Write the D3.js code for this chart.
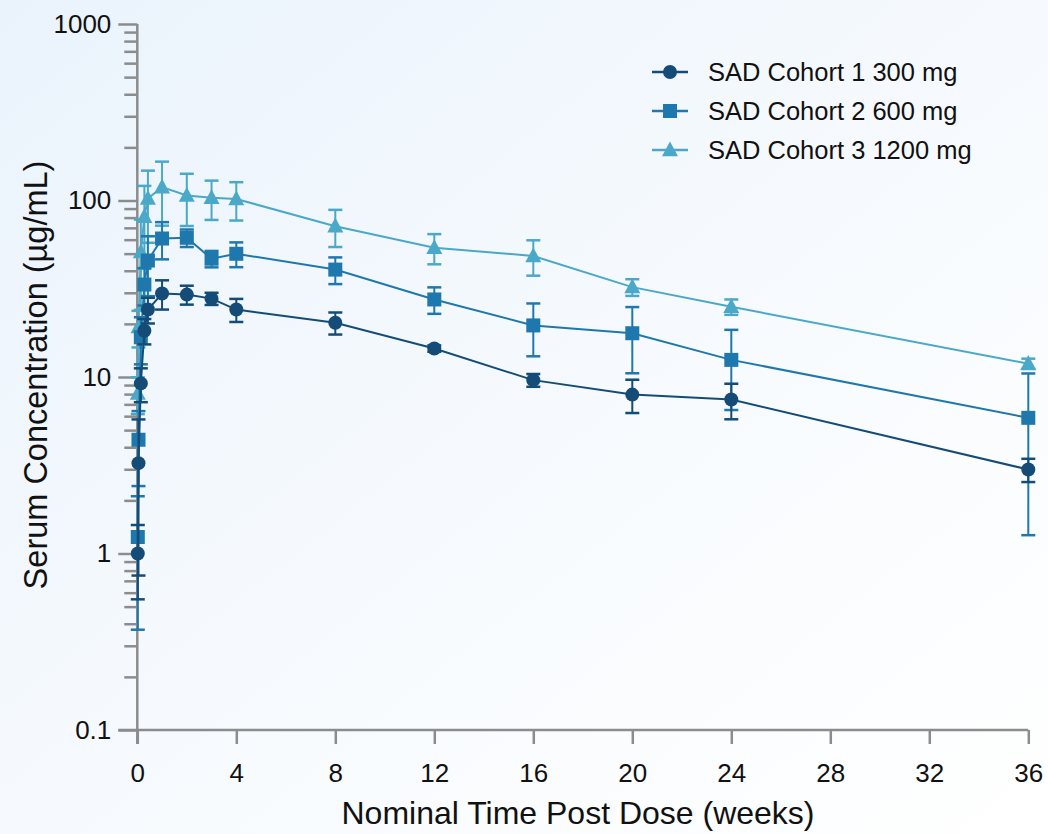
<!DOCTYPE html>
<html>
<head>
<meta charset="utf-8">
<script src="https://cdn.jsdelivr.net/npm/d3@7"></script>
<style>
html,body{margin:0;padding:0;}
body{width:1048px;height:834px;overflow:hidden;}
svg{display:block;font-family:"Liberation Sans",Arial,sans-serif;}
</style>
</head>
<body>
<svg id="chart" width="1048" height="834"></svg>
<script>
// ---- data ----
const times = [0.02, 0.048, 0.143, 0.286, 0.429, 1, 2, 3, 4, 8, 12, 16, 20, 24, 36];
const seriesNames = ["SAD Cohort 1 300 mg", "SAD Cohort 2 600 mg", "SAD Cohort 3 1200 mg"];
const cohort1Mean = [1.0, 3.25, 9.2, 18.3, 24.1, 29.7, 29.3, 27.8, 24.1, 20.3, 14.5, 9.6, 7.95, 7.46, 2.99];
const cohort1SD   = [0.45, 2.5, 2.0, 3.0, 4.0, 5.6, 3.6, 2.2, 3.6, 2.9, 0.6, 0.8, 1.7, 1.7, 0.45];
const cohort2Mean = [1.24, 4.41, 16.8, 33.4, 45.7, 60.9, 61.5, 46.8, 49.9, 40.6, 27.5, 19.6, 17.7, 12.5, 5.87];
const cohort2SD   = [0.87, 2.0, 5.0, 8.0, 17.0, 14.5, 7.0, 5.0, 8.0, 7.0, 4.7, 6.5, 7.2, 6.0, 4.6];
const cohort3Mean = [8.06, 19.2, 51.0, 81.0, 102.6, 119.0, 106.7, 103.6, 102.0, 71.5, 54.0, 48.5, 32.3, 25.0, 11.9];
const cohort3SD   = [1.9, 4.5, 27.0, 40.0, 45.0, 47.0, 35.0, 26.0, 25.0, 17.0, 10.5, 11.0, 3.5, 2.5, 0.8];
const xTicks = [0, 4, 8, 12, 16, 20, 24, 28, 32, 36];
const yTicks = [0.1, 1, 10, 100, 1000];
const colors = ["#144c77", "#1f78ad", "#4aa8c8"];
const shapes = ["circle", "square", "triangle"];

const series = [
  {name: seriesNames[0], mean: cohort1Mean, sd: cohort1SD, color: colors[0], shape: shapes[0]},
  {name: seriesNames[1], mean: cohort2Mean, sd: cohort2SD, color: colors[1], shape: shapes[1]},
  {name: seriesNames[2], mean: cohort3Mean, sd: cohort3SD, color: colors[2], shape: shapes[2]}
];

const svg = d3.select("#chart");
const W = 1048, H = 834;

// background gradient
const defs = svg.append("defs");
const grad = defs.append("linearGradient").attr("id", "bg")
  .attr("x1", "0%").attr("y1", "0%").attr("x2", "100%").attr("y2", "100%");
grad.append("stop").attr("offset", "0%").attr("stop-color", "#eaf3fc");
grad.append("stop").attr("offset", "60%").attr("stop-color", "#f8fbfe");
grad.append("stop").attr("offset", "100%").attr("stop-color", "#ffffff");
svg.append("rect").attr("width", W).attr("height", H).attr("fill", "url(#bg)");

const x0 = 137.3, x1 = 1028.3, yTop = 24, yBot = 730;
const x = d3.scaleLinear().domain([0, 36]).range([x0, x1]);
const y = d3.scaleLog().domain([0.1, 1000]).range([yBot, yTop]);

const axisColor = "#8c8c8c";

// y axis
const minorVals = [];
for (let e = -1; e < 3; e++) {
  for (let m = 2; m <= 9; m++) minorVals.push(m * Math.pow(10, e));
}
const yAxisMinor = d3.axisLeft(y).tickValues(minorVals).tickSize(13).tickFormat("");
const yAxisMajor = d3.axisLeft(y).tickValues(yTicks).tickSize(19).tickPadding(7)
  .tickFormat(d => d >= 1 ? d3.format("d")(d) : String(d));

const gyMinor = svg.append("g").attr("transform", `translate(${x0},0)`).call(yAxisMinor);
gyMinor.select(".domain").remove();
const gy = svg.append("g").attr("transform", `translate(${x0},0)`).call(yAxisMajor);
gy.select(".domain").remove();
[gyMinor, gy].forEach(g => {
  g.selectAll(".tick line").attr("stroke", axisColor).attr("stroke-width", 2.5);
});
gy.selectAll(".tick text").attr("fill", "#111").attr("font-size", 26);

// x axis
const xAxis = d3.axisBottom(x).tickValues(xTicks).tickSize(14).tickPadding(20).tickFormat(d3.format("d"));
const gx = svg.append("g").attr("transform", `translate(0,${yBot})`).call(xAxis);
gx.select(".domain").remove();
gx.selectAll(".tick line").attr("stroke", axisColor).attr("stroke-width", 2.5);
gx.selectAll(".tick text").attr("fill", "#111").attr("font-size", 26);

// axis lines
svg.append("line").attr("x1", x0).attr("x2", x0).attr("y1", yTop).attr("y2", yBot + 14)
  .attr("stroke", axisColor).attr("stroke-width", 2.5);
svg.append("line").attr("x1", x0 - 19).attr("x2", x1).attr("y1", yBot).attr("y2", yBot)
  .attr("stroke", axisColor).attr("stroke-width", 2.5);

// titles
svg.append("text").attr("x", 578).attr("y", 824)
  .attr("text-anchor", "middle").attr("font-size", 32).attr("fill", "#111")
  .text("Nominal Time Post Dose (weeks)");
svg.append("text").attr("transform", `translate(47,375) rotate(-90)`)
  .attr("text-anchor", "middle").attr("font-size", 32.5).attr("fill", "#111")
  .text("Serum Concentration (µg/mL)");

// marker drawing
function drawMarker(g, shape, cx, cy, color) {
  if (shape === "circle") {
    g.append("circle").attr("cx", cx).attr("cy", cy).attr("r", 7).attr("fill", color);
  } else if (shape === "square") {
    g.append("rect").attr("x", cx - 7).attr("y", cy - 7).attr("width", 14).attr("height", 14).attr("fill", color);
  } else {
    const s = 16, h = s * Math.sqrt(3) / 2;
    g.append("path")
      .attr("d", `M${cx},${cy - h * 0.62} L${cx + s / 2},${cy + h * 0.45} L${cx - s / 2},${cy + h * 0.45} Z`)
      .attr("fill", color);
  }
}

const line = d3.line().x(d => x(d.t)).y(d => y(d.v));

const order = [2, 1, 0];
order.forEach(i => {
  const s = series[i];
  const pts = times.map((t, k) => ({t, v: s.mean[k], sd: s.sd[k]}));
  const g = svg.append("g");
  // error bars
  pts.forEach(p => {
    const hi = p.v + p.sd;
    const lo = Math.max(p.v - p.sd, 0.1);
    const cx = x(p.t);
    g.append("line").attr("x1", cx).attr("x2", cx).attr("y1", y(hi)).attr("y2", y(lo))
      .attr("stroke", s.color).attr("stroke-width", 2);
    [hi, lo].forEach(val => {
      g.append("line").attr("x1", cx - 7).attr("x2", cx + 7).attr("y1", y(val)).attr("y2", y(val))
        .attr("stroke", s.color).attr("stroke-width", 2.5);
    });
  });
  g.append("path").datum(pts).attr("d", line).attr("fill", "none")
    .attr("stroke", s.color).attr("stroke-width", 2);
  pts.forEach(p => drawMarker(g, s.shape, x(p.t), y(p.v), s.color));
});

// legend
const legend = svg.append("g");
series.forEach((s, i) => {
  const ly = 72 + i * 39;
  legend.append("line").attr("x1", 652).attr("x2", 688).attr("y1", ly).attr("y2", ly)
    .attr("stroke", s.color).attr("stroke-width", 2.5);
  drawMarker(legend, s.shape, 670, ly, s.color);
  legend.append("text").attr("x", 708).attr("y", ly + 9).attr("font-size", 25.5).attr("fill", "#111")
    .text(s.name);
});
</script>
</body>
</html>
